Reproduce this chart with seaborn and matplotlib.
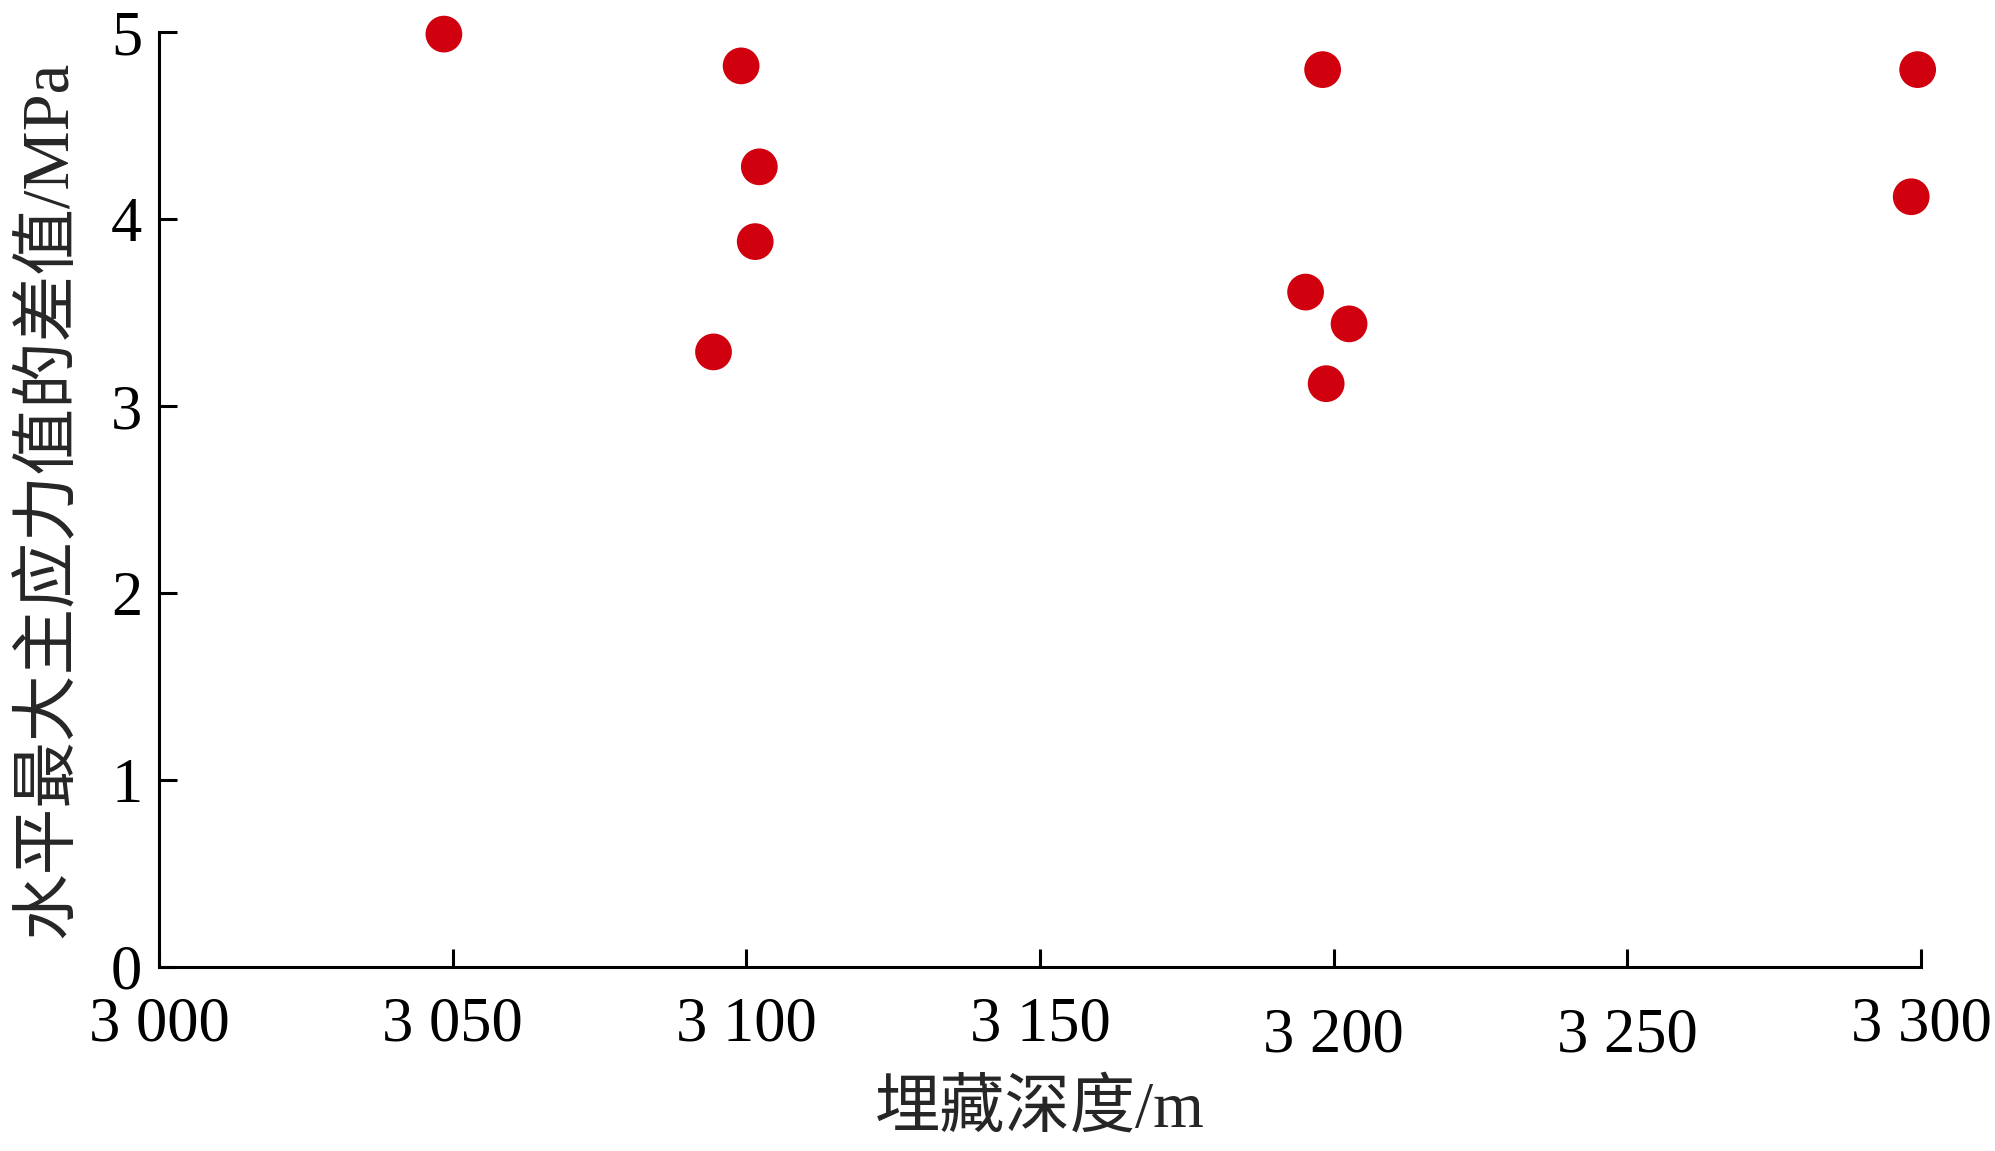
import pandas as pd
import matplotlib
matplotlib.use('Agg')
import matplotlib.pyplot as plt
import seaborn as sns

# depth (m) and difference of horizontal principal stresses (MPa)
depth = [3048.5, 3099.1, 3102.2, 3101.5, 3094.4,
         3198.1, 3195.2, 3202.6, 3198.7, 3299.4, 3298.3]
stress_diff = [4.99, 4.82, 4.28, 3.88, 3.29,
               4.80, 3.61, 3.44, 3.12, 4.80, 4.12]
x_ticks = [3000, 3050, 3100, 3150, 3200, 3250, 3300]
x_tick_labels = ['3 000', '3 050', '3 100', '3 150', '3 200', '3 250', '3 300']
y_ticks = [0, 1, 2, 3, 4, 5]

df = pd.DataFrame({'depth': depth, 'diff': stress_diff})

sns.set_style('ticks')
plt.rcParams['font.family'] = ['Liberation Serif', 'Noto Sans CJK SC', 'DejaVu Sans']

fig = plt.figure(figsize=(19.95, 11.51), dpi=100)
ax = fig.add_axes([0.0797, 0.1599, 0.8833, 0.8121])

sns.scatterplot(data=df, x='depth', y='diff', ax=ax, s=700, color='#d0000e',
                edgecolor='none', linewidth=0, clip_on=False, zorder=3)

ax.set_xlim(3000, 3300)
ax.set_ylim(0, 5)
ax.set_xticks(x_ticks)
ax.set_xticklabels(x_tick_labels)
ax.set_yticks(y_ticks)

sns.despine(ax=ax)
for side in ['left', 'bottom']:
    ax.spines[side].set_linewidth(2.2)
    ax.spines[side].set_color('black')

ax.tick_params(axis='both', direction='in', length=13, width=2.2,
               labelsize=45, colors='black')
ax.tick_params(axis='x', pad=21)
ax.tick_params(axis='y', pad=12)

# a couple of tick labels sit a bit lower in the original
for lbl in ax.get_xticklabels():
    if lbl.get_text() in ('3 200', '3 250'):
        lbl.set_y(-0.012)

ax.set_xlabel('埋藏深度/m', fontsize=47, labelpad=10)
ax.set_ylabel('水平最大主应力值的差值/MPa', fontsize=48, labelpad=22)

fig.savefig('out.png', dpi=100)
